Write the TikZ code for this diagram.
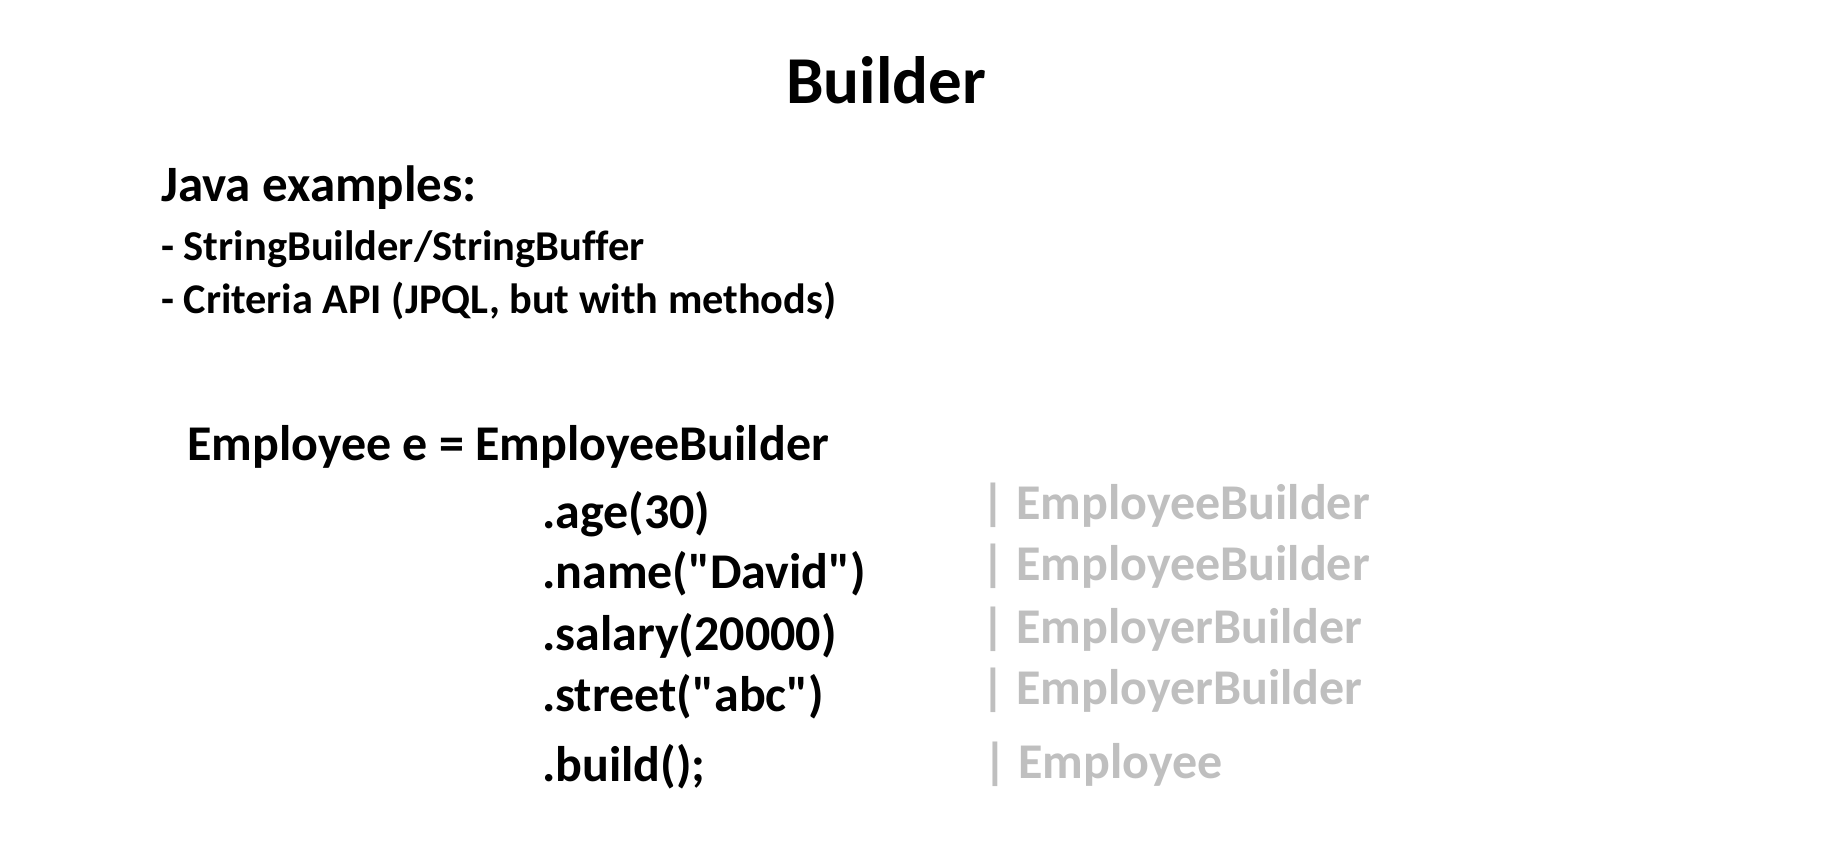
\documentclass[tikz,border=0pt]{standalone}
\usepackage{fontspec}
\setmainfont{Carlito}[Ligatures={TeXOff,NoCommon}]
\definecolor{typegray}{HTML}{BFBFBF}
\tikzset{
  txt/.style={anchor=base west, inner sep=0pt, font=\bfseries\fontsize{#1}{#1}\selectfont},
  txt/.default=50,
  code/.style={txt=50},
  typ/.style={txt=50, text=typegray},
}
\begin{document}
\begin{tikzpicture}[x=1pt,y=-1pt]
\useasboundingbox[fill=white] (0,0) rectangle (1825,861);
\node[anchor=base, inner sep=0pt, font=\bfseries\fontsize{67}{67}\selectfont] (title) at (886,104) {Builder};
\node[txt=51] (java) at (161,201) {Java examples:};
\node[txt=42.5] (ex1) at (161,260) {- StringBuilder/StringBuffer};
\node[txt=42.3] (ex2) at (161,313) {- Criteria API (JPQL, but with methods)};
\node[code] (decl) at (187,460) {Employee e = EmployeeBuilder};
\node[code] (age) at (542,528) {.age(30)};
\node[code] (name) at (542,588) {.name("David")};
\node[code] (salary) at (542,650) {.salary(20000)};
\node[code] (street) at (542,711) {.street("abc")};
\node[code] (build) at (542,781) {.build();};
\node[typ] (t1) at (981,519) {| EmployeeBuilder};
\node[typ] (t2) at (981,580) {| EmployeeBuilder};
\node[typ] (t3) at (981,643) {| EmployerBuilder};
\node[typ] (t4) at (981,704) {| EmployerBuilder};
\node[typ] (t5) at (983,778) {| Employee};
\end{tikzpicture}
\end{document}
